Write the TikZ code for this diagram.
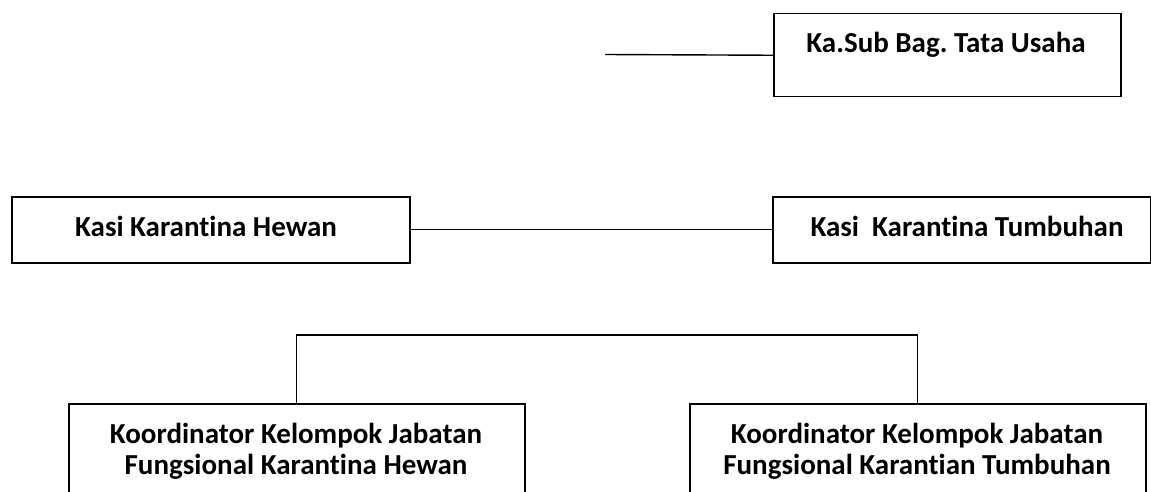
\documentclass[tikz,border=0pt]{standalone}
\usepackage{fontspec}
\setmainfont{Carlito}[Ligatures=NoCommon]
\frenchspacing
\begin{document}
\begin{tikzpicture}[x=1pt,y=-1pt,
  box/.style={draw,line width=1.5pt,rectangle,inner sep=0pt,anchor=north west},
  lbl/.style={font=\bfseries\fontsize{29}{31}\selectfont,align=center,inner sep=0pt},
  link/.style={line width=1.4pt}]
\useasboundingbox (0,0) rectangle (1151,492);
\clip (0,0) rectangle (1151,492);
\fill[white] (0,0) rectangle (1151,492);
% top box
\node[box,minimum width=347pt,minimum height=83pt] (sub) at (773,13) {};
\node[lbl] (subt) at (946,45) {Ka.Sub Bag. Tata Usaha};
\coordinate (s0) at (605,54.5);
\draw[link] (s0) -- (sub.west);
% middle row
\node[box,minimum width=398pt,minimum height=66pt] (hew) at (11,196) {};
\node[lbl] (hewt) at (206,226) {Kasi Karantina Hewan};
\node[box,minimum width=378pt,minimum height=66pt] (tum) at (772,196) {};
\node[lbl] (tumt) at (967,226) {Kasi\ \ Karantina Tumbuhan};
\draw[link] (hew.east) -- (tum.west);
% bottom row
\node[box,minimum width=456pt,minimum height=130pt] (kh) at (68,403) {};
\node[lbl] (kht) at (296,451) {Koordinator Kelompok Jabatan\\Fungsional Karantina Hewan};
\node[box,minimum width=456pt,minimum height=130pt] (kt) at (689,403) {};
\node[lbl] (ktt) at (917,451) {Koordinator Kelompok Jabatan\\Fungsional Karantian Tumbuhan};
\draw[link] (kh.north) -- ++(0,-68) -| (kt.north);
\end{tikzpicture}
\end{document}
